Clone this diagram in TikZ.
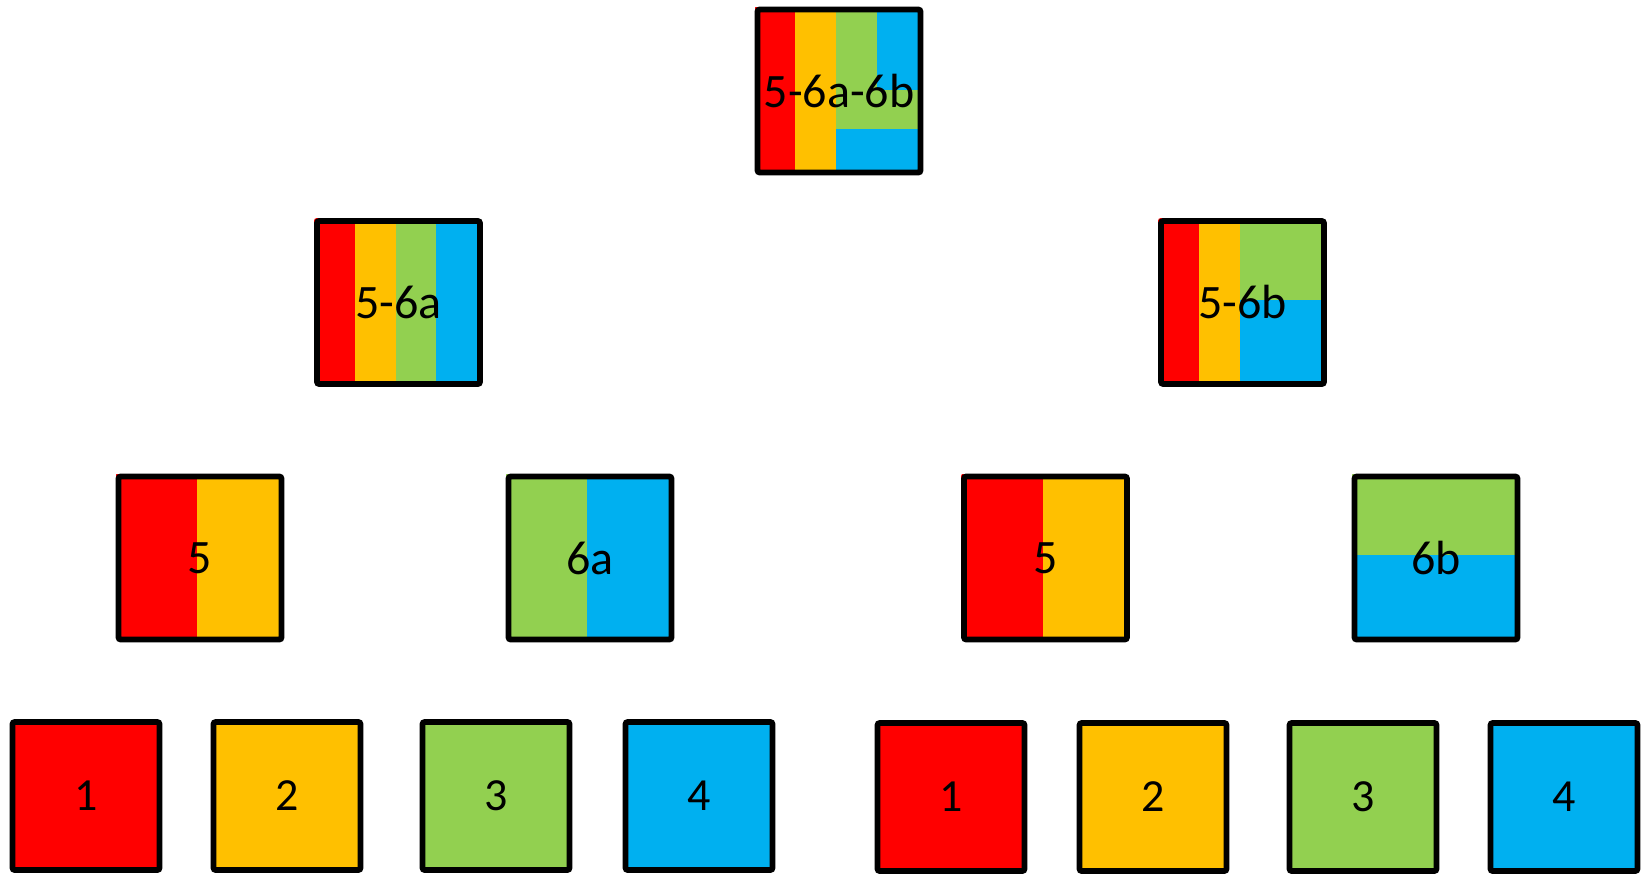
\documentclass[tikz,border=0pt]{standalone}
\usepackage{fontspec}
\setmainfont{Carlito}
\usepackage{tikz}
\usetikzlibrary{backgrounds}
\definecolor{cred}{HTML}{FF0000}
\definecolor{corange}{HTML}{FFC000}
\definecolor{cgreen}{HTML}{92D050}
\definecolor{cblue}{HTML}{00B0F0}
\tikzset{
  box/.style={draw, line width=2.8pt, rounded corners=1pt, inner sep=0pt,
    minimum width=81.5pt, minimum height=81.5pt, font=\fontsize{24}{24}\selectfont},
  leaf/.style={box, minimum width=73.5pt, minimum height=74pt, font=\fontsize{23}{23}\selectfont}
}
% colour patches of a box, in unit coordinates from its top left corner
\newcommand{\tiles}[2]{\begin{scope}[on background layer]\begin{scope}
    \clip[rounded corners=1pt] (#1.north west) rectangle (#1.south east);
    \begin{scope}[shift={(#1.north west)}, x=81.5pt, y=-81.5pt] #2 \end{scope}
  \end{scope}\end{scope}}

\begin{document}
\begin{tikzpicture}[x=0.5pt, y=-0.5pt]
    \useasboundingbox (0,0) rectangle (1644,874);

    % Top
    \node [box] (all) at (839,91) {5-6a-6b};
    \tiles{all}{
        \fill[cred] (0,0) rectangle (.25,1);
        \fill[corange] (.25,0) rectangle (.5,1);
        \fill[cgreen] (.5,0) rectangle (1,1);
        \fill[cblue] (.75,0) rectangle (1,.51);
        \fill[cblue] (.5,.75) rectangle (1,1);}

    % Second row
    \node [box] (m6a) at (398.5,302.5) {5-6a};
    \tiles{m6a}{
        \fill[cred] (0,0) rectangle (.25,1);
        \fill[corange] (.25,0) rectangle (.5,1);
        \fill[cgreen] (.5,0) rectangle (.75,1);
        \fill[cblue] (.75,0) rectangle (1,1);}
    \node [box] (m6b) at (1242.5,302.5) {5-6b};
    \tiles{m6b}{
        \fill[cred] (0,0) rectangle (.25,1);
        \fill[corange] (.25,0) rectangle (.5,1);
        \fill[cgreen] (.5,0) rectangle (1,.5);
        \fill[cblue] (.5,.5) rectangle (1,1);}

    % Third row
    \node [box] (five_a) at (200,558) {5};
    \tiles{five_a}{
        \fill[cred] (0,0) rectangle (.5,1);
        \fill[corange] (.5,0) rectangle (1,1);}
    \node [box] (six_a) at (590,558) {6a};
    \tiles{six_a}{
        \fill[cgreen] (0,0) rectangle (.5,1);
        \fill[cblue] (.5,0) rectangle (1,1);}
    \node [box] (five_b) at (1045.5,558) {5};
    \tiles{five_b}{
        \fill[cred] (0,0) rectangle (.5,1);
        \fill[corange] (.5,0) rectangle (1,1);}
    \node [box] (six_b) at (1436,558) {6b};
    \tiles{six_b}{
        \fill[cgreen] (0,0) rectangle (1,.5);
        \fill[cblue] (0,.5) rectangle (1,1);}

    % Bottom row
    \node [leaf, fill=cred] (one_a) at (86,796) {1};
    \node [leaf, fill=corange] (two_a) at (287,796) {2};
    \node [leaf, fill=cgreen] (three_a) at (496,796) {3};
    \node [leaf, fill=cblue] (four_a) at (699,796) {4};
    \node [leaf, fill=cred] (one_b) at (951,797) {1};
    \node [leaf, fill=corange] (two_b) at (1153,797) {2};
    \node [leaf, fill=cgreen] (three_b) at (1363,797) {3};
    \node [leaf, fill=cblue] (four_b) at (1564,797) {4};
\end{tikzpicture}
\end{document}
